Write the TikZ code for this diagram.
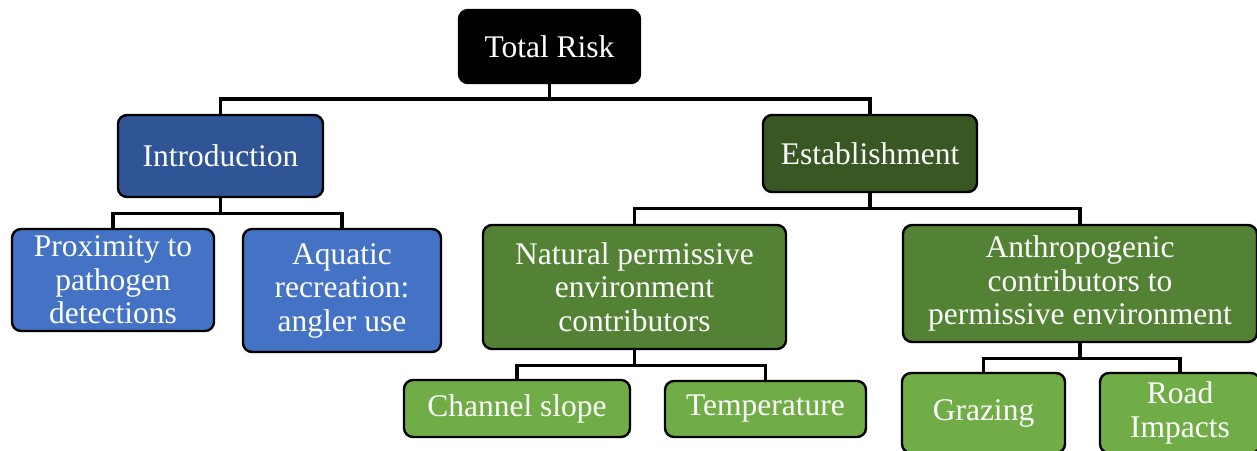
\documentclass[tikz,border=0pt]{standalone}
\usepackage{fontspec}
\setmainfont{Liberation Serif}
\usetikzlibrary{positioning}

\definecolor{blackbox}{HTML}{000000}
\definecolor{introblue}{HTML}{2F5597}
\definecolor{leafblue}{HTML}{4472C4}
\definecolor{estgreen}{HTML}{385723}
\definecolor{midgreen}{HTML}{548235}
\definecolor{leafgreen}{HTML}{70AD47}

\begin{document}
\begin{tikzpicture}[
		x=1pt,y=-1pt,
		box/.style={
			draw=black,
			line width=2.4pt,
			rounded corners=9pt,
			text=white,
			align=center,
			inner sep=0pt,
			font=\fontsize{31.5}{33.5}\selectfont
		},
		root/.style={box, fill=blackbox},
		intro/.style={box, fill=introblue},
		introleaf/.style={box, fill=leafblue},
		estab/.style={box, fill=estgreen},
		estmid/.style={box, fill=midgreen},
		estleaf/.style={box, fill=leafgreen},
		link/.style={
			draw=black,
			line width=3.5pt
		}
		]
		\useasboundingbox (0,0) rectangle (1257,450);
		\clip (0,0) rectangle (1257,450);
		
		\node[root, minimum width=181, minimum height=73] (total) at (549.5,46.5) {Total Risk};
		
		\node[intro, minimum width=205, minimum height=82] (introduction) at (220.5,156) {Introduction};
		\node[estab, minimum width=214, minimum height=77] (establishment) at (870,153.5) {Establishment};
		
		\node[introleaf, minimum width=202, minimum height=102] (proximity) at (113,280) {Proximity to\\pathogen\\detections};
		\node[introleaf, minimum width=198, minimum height=123] (aquatic) at (342,290.5) {Aquatic\\recreation:\\angler use};
		
		\node[estmid, minimum width=303, minimum height=124] (natural) at (634.5,287) {Natural permissive\\environment\\contributors};
		\node[estmid, minimum width=354, minimum height=117] (anthro) at (1080,283.5) {Anthropogenic\\contributors to\\permissive environment};
		
		\node[estleaf, minimum width=226, minimum height=57] (slope) at (517,408.5) {Channel slope};
		\node[estleaf, minimum width=201, minimum height=56] (temperature) at (765.5,409) {Temperature};
		\node[estleaf, minimum width=163, minimum height=80] (grazing) at (983.5,413) {Grazing};
		\node[estleaf, minimum width=160, minimum height=80] (road) at (1180,413) {Road\\Impacts};
		
		% Tree links
		\draw[link] (total.south) -- ++(0,15) -| (introduction.north);
		\draw[link] (total.south) -- ++(0,15) -| (establishment.north);
		\foreach \parent/\child in {introduction/proximity,introduction/aquatic,establishment/natural,establishment/anthro,natural/slope,natural/temperature,anthro/grazing,anthro/road}
		\draw[link] (\parent.south) -- ++(0,15.5) -| (\child.north);
		
		\end{tikzpicture}
\end{document}
